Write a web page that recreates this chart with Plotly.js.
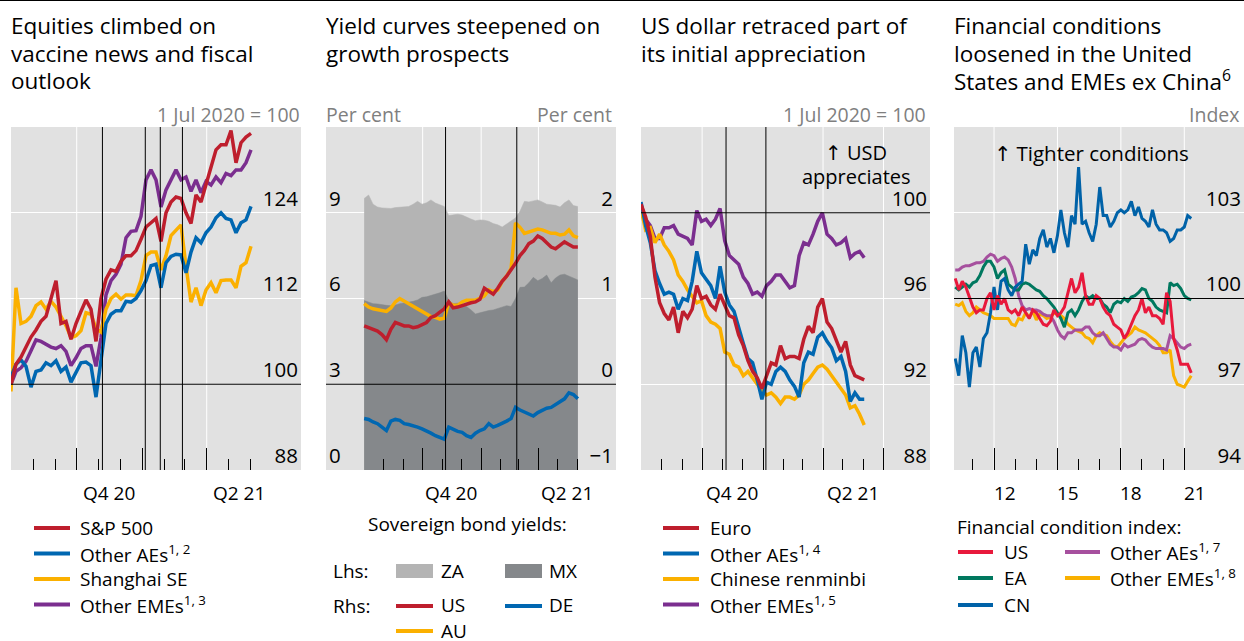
<!DOCTYPE html>
<html><head><meta charset="utf-8">
<script src="https://cdn.plot.ly/plotly-3.0.1.min.js"></script>
<style>html,body{margin:0;padding:0;background:#fff;overflow:hidden}#chart{width:1244px;height:641px}</style>
</head><body><div id="chart"></div>
<script>
// ---------- DATA ----------
// Panel 1: equities, weekly from 1 Jul 2020 (1 Jul 2020 = 100)
const p1Start = '2020-07-01';
const spx   = [100,102.8,103.8,105.2,106.6,107.6,108.8,109.5,112,114.5,108.5,108.8,106.3,108.5,110.2,111.8,110.5,106,112,114.7,116,115.8,117.2,118,118,118.7,120.3,122,122.6,123.2,120,124,125.5,126.2,126,124,122.5,126.5,125.5,128,130.5,132.8,133.5,133.5,135.5,131,133.8,134.6,135.1];
const eqAEs = [101,102.8,103.4,102.5,99.6,101.8,102,103,102.6,103.3,101.8,102.4,100.3,101.6,103,103.1,102.6,98.2,103.5,108.5,109.8,110.3,110.3,111.6,111.5,112,113.1,114.5,116.6,116.8,113.5,117,117.9,118.2,118.1,115.6,118.5,120.5,119.8,121.2,122,123.3,124,123.2,123,121.2,122.6,123,124.9];
const sse   = [99,113.5,108.5,108.8,109.5,111,111.5,110.5,111.6,110.8,109.5,108.2,106.5,106.8,107.5,110,109.8,107.8,107.3,110.5,112,112.6,111.9,112.5,112.5,112.4,114.5,118,118.5,118.5,116,118,120.8,121.5,122.3,116.5,111.5,113.5,111,113.2,114.2,112.8,114.5,114.6,114.6,113.5,116.5,117,119.3];
const eqEMEs= [100,101.8,102.3,103.2,104.7,106.2,106,105.6,105.2,105,105.4,104.6,102.6,103.7,105,105.4,105.4,102.5,106.5,112.5,114.5,115.4,116.8,120.5,121.4,121.5,123.5,128.6,130,128.6,124.8,127.2,128.6,130,128.6,129,127,128.6,126.8,128.4,127.9,129,128.2,129.5,129.2,130,130,131,132.8];

// Panel 2: sovereign bond yields (per cent), weekly from 1 Jul 2020
const p2Start = '2020-07-01';
const yZA = [9.5,9.62,9.3,9.2,9.17,9.17,9.15,9.18,9.2,9.22,9.22,9.3,9.4,9.3,9.35,9.45,9.34,9.28,9.22,8.9,8.92,8.95,8.92,8.84,8.78,8.72,8.75,8.74,8.7,8.62,8.58,8.5,8.6,8.7,8.82,9.05,9.4,9.38,9.42,9.45,9.38,9.3,9.28,9.26,9.2,9.35,9.45,9.25,9.22];
const yMX = [5.93,5.88,5.82,5.81,5.78,5.76,5.75,5.77,5.82,5.85,5.86,5.9,5.95,6.04,6.06,6.1,6.16,6.2,6.26,5.93,5.82,5.84,5.8,5.72,5.6,5.46,5.5,5.55,5.58,5.6,5.65,5.72,5.75,5.72,6.0,6.39,6.4,6.55,6.74,6.62,6.7,6.82,6.55,6.72,6.82,6.85,6.78,6.72,6.65];
const yUS = [0.68,0.66,0.63,0.62,0.58,0.52,0.64,0.72,0.7,0.68,0.68,0.66,0.67,0.69,0.72,0.78,0.8,0.84,0.88,0.96,0.89,0.9,0.92,0.94,0.95,0.96,0.99,1.12,1.08,1.05,1.12,1.2,1.26,1.33,1.41,1.5,1.56,1.64,1.67,1.73,1.7,1.65,1.6,1.58,1.62,1.66,1.63,1.6,1.6];
const yAU = [0.94,0.9,0.88,0.87,0.86,0.85,0.89,0.96,1.0,0.97,0.95,0.92,0.89,0.86,0.83,0.79,0.78,0.76,0.77,0.95,0.92,0.92,0.96,0.98,0.98,0.98,1.0,1.03,1.1,1.08,1.1,1.2,1.26,1.35,1.88,1.83,1.76,1.78,1.8,1.81,1.8,1.78,1.76,1.76,1.74,1.75,1.8,1.73,1.71];
const yDE = [-0.4,-0.41,-0.44,-0.46,-0.5,-0.54,-0.43,-0.41,-0.42,-0.46,-0.47,-0.48,-0.5,-0.52,-0.54,-0.57,-0.6,-0.62,-0.64,-0.5,-0.53,-0.55,-0.56,-0.6,-0.62,-0.57,-0.54,-0.52,-0.46,-0.5,-0.48,-0.46,-0.43,-0.4,-0.27,-0.3,-0.32,-0.35,-0.37,-0.33,-0.3,-0.28,-0.27,-0.24,-0.2,-0.17,-0.1,-0.12,-0.17];

// Panel 3: US dollar vs currencies, weekly from 1 Jul 2020 (1 Jul 2020 = 100)
const p3Start = '2020-07-01';
const fxEuro = [100.4,99.8,98.9,97,95.8,95.3,95,95.6,94.4,95.4,95.1,95.5,96.6,96,96.1,95.7,95.5,96.2,95.7,95.2,95.1,94.3,93.8,93.1,92.6,92.3,91.8,92.4,93,92.9,93.8,93.2,93.3,93.3,93.2,94.1,94.7,94.4,95.6,96,94.9,94.6,94.1,93.5,94,92.9,92.4,92.3,92.2];
const fxAEs  = [100.5,99.4,98.6,97.3,96.7,96.2,96.3,96.2,95.5,96,95.9,96.8,98.2,97.2,96.9,96.6,96,97.5,96.3,95.7,95.4,94.6,93.9,93.2,93,92.2,91.3,92.1,92,92.6,92.8,92.6,92.2,91.9,91.4,93,93.5,93.4,94.2,94.4,94,93.7,93.1,93.3,92.6,91.2,91.6,91.3,91.3];
const fxCNY  = [100.15,99.2,99.3,98.6,99,98.5,98.2,97.8,97.1,96.8,96.4,96.1,95.8,95.9,95.2,94.9,94.8,94.6,93.5,93.4,92.9,92.8,92.4,92.6,92.3,92,91.7,91.5,91.6,91.4,91.1,91.4,91.4,91.3,91.5,92,92.2,92.5,92.8,92.9,92.7,92.4,92.1,91.8,91.5,90.9,91,90.6,90.1];
const fxEMEs = [100.3,99.7,99.4,98.8,98.8,99.3,99.3,99.4,99,98.9,98.8,98.5,100.1,99.6,99.7,99.4,99.7,100.2,98.7,98,97.8,97.6,97,96.7,96.2,96.3,96.1,96.6,96.8,97.1,97.1,96.8,96.5,96.6,98,98.6,98.5,99,99.6,100,99,98.8,98.5,98.6,98.8,97.9,98.1,98.2,97.9];

// Panel 4: financial condition indices, every two months from Mar 2010
const p4StartYear = 2010, p4StartMonth = 3;
const fciUS  = [100.7,100.3,100.6,100.4,100.05,99.7,99.5,99.6,99.6,100,100.2,99.6,100.1,99.8,100,99.6,99.5,99.6,99.4,99.7,99.5,99.3,99.6,99.5,99.3,99.1,99.05,99.2,99.6,99.4,99.5,99.7,100.2,100.7,100.2,100.4,100.9,100.1,99.8,99.8,100.1,100,99.7,99.5,99.4,99.1,99,98.9,98.6,98.8,99.1,99.4,99.6,100,99.5,99.7,99.4,99.4,99.3,99.1,100.2,99.9,98.6,98.2,97.7,97.7,97.7,97.4];
const fciEA  = [100.4,100.3,100.4,100.5,100.4,100.55,100.6,100.8,101.1,101.3,101.3,101.1,100.7,100.9,101,100.5,100.4,100.3,100.3,100.5,100.55,100.5,100.4,100.3,100.25,100.1,100,99.85,99.7,99.5,99.3,99.0,99.5,99.6,99.4,99.6,99.9,100.1,100,100.1,100,100,99.8,99.7,99.5,99.8,99.9,99.85,100,99.9,100.05,100.1,100.2,100.35,100.3,100,99.9,99.7,99.6,99.55,99.5,100.55,100.45,100.5,100.35,100.1,100,99.95];
const fciCN  = [97.9,97.3,98.7,98.1,96.9,98.1,98.3,97.6,98.6,98.8,99.5,100.4,99.6,100.6,100.7,100.3,100.1,100.4,100.5,100.6,101.9,101.2,101.7,101.5,102.1,102.4,101.8,102.1,101.6,102.2,103.1,102.3,101.8,102.9,102.6,104.6,102.6,102.7,102.3,102,102.6,103.9,102.9,102.9,102.5,102.7,103,103.1,103,103.1,103.4,102.9,103.2,102.8,102.7,102.5,103.1,102.6,102.4,102.4,102.3,102,102.1,102.4,102.4,102.5,102.9,102.8];
const fciAEs = [101,101,101.1,101.15,101.15,101.2,101.25,101.25,101.3,101.45,101.55,101.5,101.3,101.4,101.45,101.35,101.1,100.7,100.1,99.75,99.6,99.65,99.6,99.6,99.55,99.45,99.4,99.4,99.2,98.9,98.7,98.6,98.8,98.8,98.9,98.9,98.9,99,99,98.8,98.7,98.7,98.8,98.6,98.4,98.3,98.3,98.2,98.4,98.3,98.35,98.4,98.55,98.6,98.55,98.4,98.3,98.25,98.25,98.25,98.2,98.7,98.6,98.45,98.3,98.25,98.35,98.4];
const fciEMEs= [99.8,99.75,99.85,99.55,99.4,99.5,99.7,99.6,99.5,99.45,99.4,99.3,99.3,99.3,99.3,99.3,99.1,99.05,99.3,99.25,99.5,99.35,99.55,99.25,99.45,99.4,99.3,99.35,99.5,99.45,99.4,99.3,99.1,99,98.9,98.85,98.8,98.65,98.6,98.45,98.7,98.8,98.75,98.7,98.5,98.35,98.3,98.45,98.6,98.7,98.8,99,98.9,98.85,98.8,98.7,98.6,98.5,98.35,98.1,98.1,98.2,97.3,97.0,96.95,96.9,97.1,97.3];

// Axis ticks / labels / reference dates
const p1Major = ['2020-07-01','2020-10-01','2021-01-01','2021-04-01'];
const p1Minor = ['2020-08-01','2020-09-01','2020-11-01','2020-12-01','2021-02-01','2021-03-01','2021-05-01','2021-06-01'];
const p2Major = ['2020-10-01','2021-01-01','2021-04-01'];
const p2Minor = p1Minor;
const p3Major = ['2020-07-01','2020-10-01','2021-01-01','2021-04-01','2021-07-01'];
const p3Minor = p1Minor;
const p4Major = ['2012-01-01','2015-01-01','2018-01-01','2021-01-01'];
const p4Minor = ['2011-01-01','2013-01-01','2014-01-01','2016-01-01','2017-01-01','2019-01-01','2020-01-01'];
const qLabels = ['Q4 20','Q2 21'];
const qLabelDates = ['2020-11-15','2021-05-16'];
const yrLabels = ['12','15','18','21'];
const yrLabelDates = ['2012-07-01','2015-07-01','2018-07-01','2021-07-01'];
const p1Grid = ['2020-10-01','2021-04-01'];
const p2Grid = ['2020-10-01','2021-01-01','2021-04-01'];
const p3Grid = ['2020-10-01','2021-04-01','2021-07-01'];
const p4Grid = p4Major;
const p1Events = ['2020-11-06','2021-01-05','2021-01-26','2021-02-26'];
const p2Events = ['2020-11-06','2021-02-26'];
const p3Events = ['2020-11-06','2021-01-05'];

// Text
const titles = [
  ['Equities climbed on','vaccine news and fiscal','outlook'],
  ['Yield curves steepened on','growth prospects'],
  ['US dollar retraced part of','its initial appreciation'],
  ['Financial conditions','loosened in the United','States and EMEs ex China<sup>6</sup>']
];

// ---------- HELPERS ----------
function weekly(start, n){const out=[];const t0=Date.parse(start+'T00:00:00Z');for(let i=0;i<n;i++){out.push(new Date(t0+i*7*864e5).toISOString().slice(0,10));}return out;}
function everyTwoMonths(y,m,n){const out=[];for(let i=0;i<n;i++){const mm=(m-1)+2*i;const yy=y+Math.floor(mm/12);out.push(yy+'-'+String(mm%12+1).padStart(2,'0')+'-01');}return out;}
const W=1244,H=641;
const X=p=>p/W, Y=p=>1-p/H;
const F='Open Sans, sans-serif';
const RED='#be1e2d',BLUE='#0067b1',YEL='#fbb000',PUR='#7b2e8f';
const BG='#e1e1e1';
const ARROW='<span style="font-family:DejaVu Sans">↑</span>';

const d1=weekly(p1Start,spx.length), d2=weekly(p2Start,yUS.length), d3=weekly(p3Start,fxEuro.length), d4=everyTwoMonths(p4StartYear,p4StartMonth,fciUS.length);

function ln(x,y,color,xa,ya,w){return {type:'scatter',mode:'lines',x,y,xaxis:xa,yaxis:ya,line:{color,width:w||3.5},hoverinfo:'skip',showlegend:false};}

const traces=[
  ln(d1,eqEMEs,PUR,'x','y'), ln(d1,sse,YEL,'x','y'), ln(d1,eqAEs,BLUE,'x','y'), ln(d1,spx,RED,'x','y'),
  {type:'scatter',mode:'lines',x:d2,y:yZA,xaxis:'x2',yaxis:'y2',fill:'tozeroy',fillcolor:'#b4b4b4',line:{color:'#b4b4b4',width:0.5},hoverinfo:'skip',showlegend:false},
  {type:'scatter',mode:'lines',x:d2,y:yMX,xaxis:'x2',yaxis:'y2',fill:'tozeroy',fillcolor:'#85888b',line:{color:'#85888b',width:0.5},hoverinfo:'skip',showlegend:false},
  ln(d2,yDE,BLUE,'x2','y3'), ln(d2,yAU,YEL,'x2','y3'), ln(d2,yUS,RED,'x2','y3'),
  ln(d3,fxEMEs,PUR,'x3','y4'), ln(d3,fxCNY,YEL,'x3','y4'), ln(d3,fxAEs,BLUE,'x3','y4'), ln(d3,fxEuro,RED,'x3','y4'),
  ln(d4,fciEMEs,'#f9b000','x4','y5',3), ln(d4,fciAEs,'#a6509e','x4','y5',3), ln(d4,fciEA,'#00785f','x4','y5',3), ln(d4,fciCN,'#0062a8','x4','y5',3), ln(d4,fciUS,'#e8193c','x4','y5',3)
];

const tickFont={family:F,size:20.5,color:'#000'};
const xLabFont={family:F,size:19,color:'#000'};
function xax(domain,range,major,minor,anchor){return {domain,range,type:'date',anchor,showgrid:false,zeroline:false,showline:false,ticks:'inside',ticklen:22,tickwidth:1,tickcolor:'#000',tickmode:'array',tickvals:major,showticklabels:false,fixedrange:true,
  minor:{ticks:'inside',ticklen:11,tickwidth:1,tickcolor:'#000',tickmode:'array',tickvals:minor,showgrid:false}};}
function yax(range,vals,side,anchor,extra){return Object.assign({domain:[Y(470),Y(127)],range,side,anchor,tickmode:'array',tickvals:vals,ticks:'',showline:false,zeroline:false,showgrid:true,gridcolor:'#ffffff',gridwidth:1,ticklabelposition:'inside top',ticklabeloverflow:'allow',tickfont:tickFont,fixedrange:true},extra||{});}

const layout={
  width:W,height:H,margin:{l:0,r:0,t:0,b:0},paper_bgcolor:'#fff',plot_bgcolor:BG,showlegend:false,font:{family:F,size:19,color:'#000'},
  xaxis: xax([X(11),X(301)],['2020-07-01','2021-08-11'],p1Major,p1Minor,'y'),
  xaxis2:xax([X(326),X(616)],['2020-05-02','2021-08-01'],p2Major,p2Minor,'y2'),
  xaxis3:xax([X(641),X(930)],['2020-07-01','2021-09-09'],p3Major,p3Minor,'y4'),
  xaxis4:xax([X(954),X(1244)],['2010-02-08','2023-10-30'],p4Major,p4Minor,'y5'),
  yaxis: yax([88,136],[88,100,112,124],'right','x'),
  yaxis2:yax([0,12],[0,3,6,9],'left','x2'),
  yaxis3:yax([-1,3],[-1,0,1,2],'right','x2',{overlaying:'y2',showgrid:false}),
  yaxis4:yax([88,104],[88,92,96,100],'right','x3'),
  yaxis5:yax([94,106],[94,97,100,103],'right','x4'),
  shapes:[],annotations:[]
};
const S=layout.shapes,A=layout.annotations;

// vertical white gridlines
[[p1Grid,'x','y'],[p2Grid,'x2','y2'],[p3Grid,'x3','y4'],[p4Grid,'x4','y5']].forEach(([g,xa,ya])=>g.forEach(d=>S.push({type:'line',layer:'below',xref:xa,yref:ya+' domain',x0:d,x1:d,y0:0,y1:1,line:{color:'#fff',width:1}})));
// vertical black event lines
[[p1Events,'x','y'],[p2Events,'x2','y2'],[p3Events,'x3','y4']].forEach(([g,xa,ya])=>g.forEach(d=>S.push({type:'line',layer:'above',xref:xa,yref:ya+' domain',x0:d,x1:d,y0:0,y1:1,line:{color:'#000',width:1}})));
// horizontal black reference lines
[['x','y',100],['x2','y3',0],['x3','y4',100],['x4','y5',100]].forEach(([xa,ya,v])=>S.push({type:'line',layer:'above',xref:xa+' domain',yref:ya,x0:0,x1:1,y0:v,y1:v,line:{color:'#000',width:1}}));
// top rule
S.push({type:'line',xref:'paper',yref:'paper',x0:0,x1:1,y0:1,y1:1,line:{color:'#000',width:2}});

function txt(text,x,y,o){A.push(Object.assign({text,x:X(x),y:Y(y),xref:'paper',yref:'paper',showarrow:false,xanchor:'left',yanchor:'middle',align:'left',font:{family:F,size:19,color:'#000'}},o||{}));}
function sw(x0,x1,y,color){S.push({type:'line',xref:'paper',yref:'paper',x0:X(x0),x1:X(x1),y0:Y(y),y1:Y(y),line:{color,width:4}});}
function box(x0,x1,y,color){S.push({type:'rect',xref:'paper',yref:'paper',x0:X(x0),x1:X(x1),y0:Y(y+7),y1:Y(y-7),fillcolor:color,line:{width:0}});}

// titles (one annotation per line for tight line spacing)
const TF={family:F,size:22.5,color:'#000'};
const titleX=[9,324,639,952], titleRows=[26,53.5,81];
titles.forEach((lines,p)=>lines.forEach((t,i)=>txt(t,titleX[p],titleRows[i],{font:TF})));

// unit labels
const GF={family:F,size:19.5,color:'#7f7f7f'};
txt('1 Jul 2020 = 100',302,114,{xanchor:'right',font:GF});
txt('Per cent',324,114,{font:GF});
txt('Per cent',614,114,{xanchor:'right',font:GF});
txt('1 Jul 2020 = 100',928,114,{xanchor:'right',font:GF});
txt('Index',1242,114,{xanchor:'right',font:GF});

// in-plot notes
const NF={family:F,size:20,color:'#000'};
txt(ARROW+' USD',856,152,{xanchor:'center',font:NF});
txt('appreciates',856,176,{xanchor:'center',font:NF});
txt(ARROW+' Tighter conditions',1091,153,{xanchor:'center',font:{family:F,size:20.5,color:'#000'}});

// x tick labels
['x','x2','x3'].forEach(xa=>qLabels.forEach((t,i)=>A.push({text:t,x:qLabelDates[i],xref:xa,y:Y(493),yref:'paper',showarrow:false,xanchor:'center',yanchor:'middle',font:xLabFont})));
yrLabels.forEach((t,i)=>A.push({text:t,x:yrLabelDates[i],xref:'x4',y:Y(493),yref:'paper',showarrow:false,xanchor:'center',yanchor:'middle',font:xLabFont}));

// legends
const rows=[528,553.5,579,604.5];
[[RED,'S&P 500'],[BLUE,'Other AEs<sup>1, 2</sup>'],[YEL,'Shanghai SE'],[PUR,'Other EMEs<sup>1, 3</sup>']].forEach(([c,t],i)=>{sw(34,70,rows[i],c);txt(t,78,rows[i]);});
[[RED,'Euro'],[BLUE,'Other AEs<sup>1, 4</sup>'],[YEL,'Chinese renminbi'],[PUR,'Other EMEs<sup>1, 5</sup>']].forEach(([c,t],i)=>{sw(663,699,rows[i],c);txt(t,708,rows[i]);});
txt('Sovereign bond yields:',467,524,{xanchor:'center'});
txt('Lhs:',331,571); box(396,433,571,'#b4b4b4'); txt('ZA',439,571); box(505,542,571,'#85888b'); txt('MX',547,571);
txt('Rhs:',331,606); sw(396,433,606,RED); txt('US',439,605); sw(505,542,606,BLUE); txt('DE',547,605);
sw(396,433,631,YEL); txt('AU',439,630.5);
txt('Financial condition index:',955,527);
sw(958,993,552,'#e8193c'); txt('US',1002,552);
sw(958,993,578,'#00785f'); txt('EA',1002,578);
sw(958,993,605,'#0062a8'); txt('CN',1002,605);
sw(1065,1100,552,'#a6509e'); txt('Other AEs<sup>1, 7</sup>',1108,552);
sw(1065,1100,578,'#f9b000'); txt('Other EMEs<sup>1, 8</sup>',1108,578);

Plotly.newPlot('chart',traces,layout,{staticPlot:true,displayModeBar:false});
</script></body></html>
